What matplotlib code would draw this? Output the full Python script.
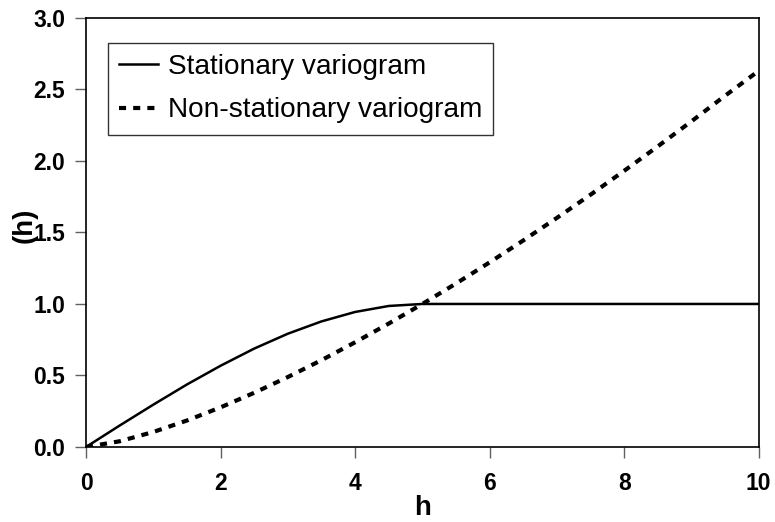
import matplotlib
matplotlib.use("Agg")
import matplotlib.pyplot as plt

h = [0, 0.5, 1, 1.5, 2, 2.5, 3, 3.5, 4, 4.5, 5, 5.5, 6, 6.5, 7, 7.5, 8, 8.5, 9, 9.5, 10]
stationary = [0.0, 0.15, 0.296, 0.437, 0.568, 0.688, 0.792, 0.878, 0.944, 0.986, 1.0,
              1.0, 1.0, 1.0, 1.0, 1.0, 1.0, 1.0, 1.0, 1.0, 1.0]
nonstationary = [0.0, 0.04, 0.105, 0.185, 0.277, 0.379, 0.489, 0.607, 0.732, 0.863, 1.0,
                 1.143, 1.291, 1.444, 1.602, 1.764, 1.931, 2.102, 2.277, 2.456, 2.63]
xticks = [0, 2, 4, 6, 8, 10]
yticks = [0.0, 0.5, 1.0, 1.5, 2.0, 2.5, 3.0]

plt.rcParams['font.family'] = ['Liberation Sans', 'DejaVu Sans']

fig = plt.figure(figsize=(7.75, 5.22), dpi=100)
ax = fig.add_axes([0.111, 0.1437, 0.868, 0.822])

ax.plot(h, stationary, color='black', lw=1.8, label='Stationary variogram')
ax.plot(h, nonstationary, color='black', lw=3, linestyle=(0, (1.7, 1.7)),
        label='Non-stationary variogram')

ax.set_xlim(0, 10)
ax.set_ylim(0, 3)
ax.set_xticks(xticks)
ax.set_xticklabels([str(t) for t in xticks])
ax.set_yticks(yticks)
ax.set_yticklabels([f"{t:.1f}" for t in yticks])
ax.tick_params(direction='out', length=8, width=1, color='#606060', labelsize=16.5)
ax.tick_params(axis='y', pad=7)
ax.tick_params(axis='x', pad=10)
for lab in ax.get_xticklabels() + ax.get_yticklabels():
    lab.set_fontweight('bold')
for s in ax.spines.values():
    s.set_linewidth(1.2)
    s.set_color('black')

ax.set_xlabel('h', fontsize=20, fontweight='bold', labelpad=0)
ax.set_ylabel('(h)', fontsize=20, fontweight='bold', va='center', ha='center')
ax.yaxis.set_label_coords(-0.092, 0.517)

leg = ax.legend(loc='upper left', bbox_to_anchor=(0.032, 0.942), fontsize=20.2,
                frameon=True, fancybox=False, edgecolor='black', handlelength=1.4,
                handletextpad=0.35, borderpad=0.4, labelspacing=0.62, borderaxespad=0)
leg.get_frame().set_linewidth(1.0)

fig.savefig('out.png', dpi=100)
